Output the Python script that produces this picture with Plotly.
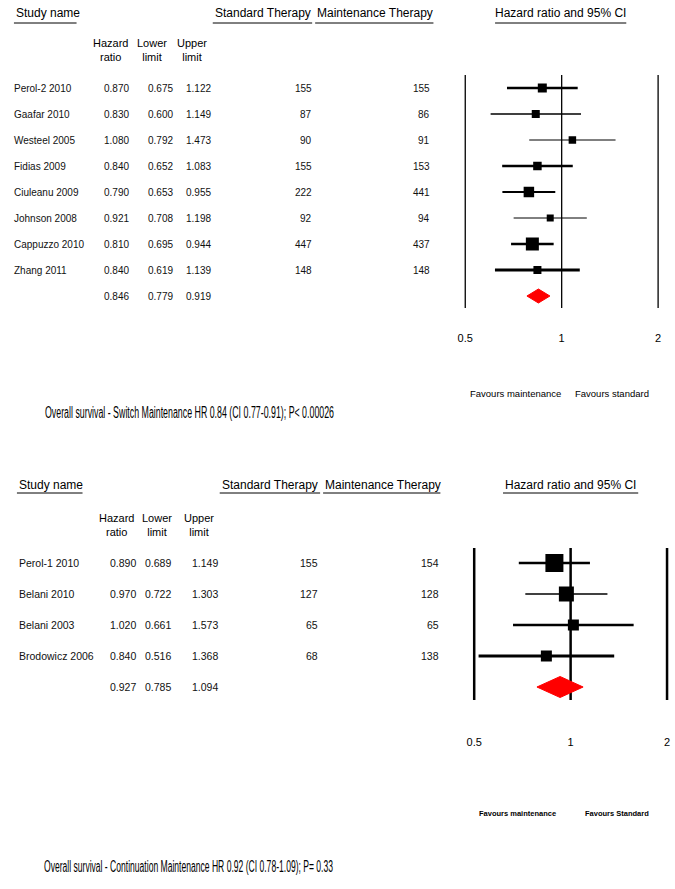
import math
import plotly.graph_objects as go

W, H = 675, 889

# ---------------- data: switch maintenance (top) ----------------
sw_names = ["Perol-2 2010", "Gaafar 2010", "Westeel 2005", "Fidias 2009",
            "Ciuleanu 2009", "Johnson 2008", "Cappuzzo 2010", "Zhang 2011"]
sw_hr = [0.870, 0.830, 1.080, 0.840, 0.790, 0.921, 0.810, 0.840]
sw_lo = [0.675, 0.600, 0.792, 0.652, 0.653, 0.708, 0.695, 0.619]
sw_hi = [1.122, 1.149, 1.473, 1.083, 0.955, 1.198, 0.944, 1.139]
sw_std = [155, 87, 90, 155, 222, 92, 447, 148]
sw_mnt = [155, 86, 91, 153, 441, 94, 437, 148]
sw_total = [0.846, 0.779, 0.919]
sw_title = "Overall survival - Switch Maintenance HR 0.84 (CI 0.77-0.91); P< 0.00026"

# ---------------- data: continuation maintenance (bottom) ----------------
co_names = ["Perol-1 2010", "Belani 2010", "Belani 2003", "Brodowicz 2006"]
co_hr = [0.890, 0.970, 1.020, 0.840]
co_lo = [0.689, 0.722, 0.661, 0.516]
co_hi = [1.149, 1.303, 1.573, 1.368]
co_std = [155, 127, 65, 68]
co_mnt = [154, 128, 65, 138]
co_total = [0.927, 0.785, 1.094]
co_title = "Overall survival - Continuation Maintenance HR 0.92 (CI 0.78-1.09); P= 0.33"

axis_ticks = [0.5, 1, 2]
tick_text = ["0.5", "1", "2"]

# ---------------- styles (pixel layout) ----------------
sw_style = dict(
    xa="x", ya="y", x0=464, x1=658,
    row0=88, step=26, dom_top=75, dom_bot=330, line_top=75, line_bot=308,
    vline_w=1.3, sq=[9, 8, 7.5, 8.5, 10.5, 7, 13, 8], lw=[2.5, 1.5, 1, 2.5, 2, 1, 2.5, 3],
    dia_half=7,
    name_x=8, col_hr=128, col_lo=172, col_hi=210, col_std=312, col_mnt=431,
    hdr_hr=107, hdr_lo=149, hdr_hi=189, sub_y=50,
    head_y=13, ul_y=23,
    ul=[(10, 73), (210, 310), (313, 432), (494, 626)],
    head_x=[(10, "left", "Study name"), (210, "left", "Standard Therapy"),
            (313, "left", "Maintenance Therapy"), (560, "center", "Hazard ratio and 95% CI")],
    tfs=10, nfs=10,
    fav_y=393, fav1=(467, "Favours maintenance"), fav2=(572, "Favours standard"),
    fav_font=dict(family="Liberation Sans, Arial", size=9.5, color="black"),
    title_x=39, title_y=412,
)
co_style = dict(
    xa="x2", ya="y2", x0=473, x1=667,
    row0=563, step=31, dom_top=548, dom_bot=734, line_top=548, line_bot=700,
    vline_w=2.5, sq=[18, 15, 11, 11], lw=[2.5, 1.3, 2.5, 3],
    dia_half=10.5,
    name_x=13, col_hr=135, col_lo=170, col_hi=217, col_std=318, col_mnt=440,
    hdr_hr=113, hdr_lo=154, hdr_hi=196, sub_y=525,
    head_y=485, ul_y=493,
    ul=[(13, 79), (217, 318), (321, 439), (502, 638)],
    head_x=[(13, "left", "Study name"), (217, "left", "Standard Therapy"),
            (321, "left", "Maintenance Therapy"), (570, "center", "Hazard ratio and 95% CI")],
    tfs=10.5, nfs=10.5,
    fav_y=813, fav1=(476, "<b>Favours maintenance</b>"), fav2=(582, "<b>Favours Standard</b>"),
    fav_font=dict(family="Liberation Sans, Arial", size=7.5, color="black"),
    title_x=38, title_y=866,
)

FONT = "Liberation Sans, Arial, sans-serif"
TITLE_FONT = "Liberation Sans, Arial, sans-serif"
TITLE_SIZE = 16
TITLE_LEN = 289   # rendered width of the condensed caption, px
XPAD = 4          # keep edge reference lines inside the clip area, px


def fx(px):
    return px / W


def fy(py):
    return 1 - py / H


fig = go.Figure()
annotations = []
shapes = []
layout_axes = {}


def add_panel(st, names, hr, lo, hi, std, mnt, total, title):
    xa, ya = st["xa"], st["ya"]
    r0, step = st["row0"], st["step"]

    def d(py):
        return (py - r0) / step

    rows = list(range(len(names)))
    n = len(names)

    # reference vertical lines
    for t in axis_ticks:
        fig.add_trace(go.Scatter(x=[t, t], y=[d(st["line_top"]), d(st["line_bot"])],
                                 mode="lines", line=dict(color="black", width=st["vline_w"]),
                                 xaxis=xa, yaxis=ya, hoverinfo="skip", showlegend=False))
    # confidence intervals
    for i in rows:
        fig.add_trace(go.Scatter(x=[lo[i], hi[i]], y=[i, i], mode="lines",
                                 line=dict(color="black", width=st["lw"][i]),
                                 xaxis=xa, yaxis=ya, hoverinfo="skip", showlegend=False))
    # point estimates
    fig.add_trace(go.Scatter(x=hr, y=rows, mode="markers",
                             marker=dict(symbol="square", size=st["sq"], color="#000000",
                                         opacity=1, line=dict(width=0)),
                             opacity=1,
                             xaxis=xa, yaxis=ya, showlegend=False, cliponaxis=False))
    # summary diamond
    dh = st["dia_half"] / step
    fig.add_trace(go.Scatter(x=[total[1], total[0], total[2], total[0], total[1]],
                             y=[n, n - dh, n, n + dh, n], mode="lines", fill="toself",
                             fillcolor="#ff0000", line=dict(color="#ff0000", width=1),
                             xaxis=xa, yaxis=ya, hoverinfo="skip", showlegend=False))

    lg0, lg1 = math.log10(axis_ticks[0]), math.log10(axis_ticks[-1])
    per_px = (lg1 - lg0) / (st["x1"] - st["x0"])
    axname_x = "xaxis" if xa == "x" else "xaxis" + xa[1:]
    axname_y = "yaxis" if ya == "y" else "yaxis" + ya[1:]
    layout_axes[axname_x] = dict(
        type="log", range=[lg0 - XPAD * per_px, lg1 + XPAD * per_px],
        domain=[fx(st["x0"] - XPAD), fx(st["x1"] + XPAD)], anchor=ya,
        tickvals=axis_ticks, ticktext=tick_text, ticks="", showgrid=False,
        zeroline=False, showline=False, tickfont=dict(family=FONT, size=11, color="black"),
        fixedrange=True,
    )
    layout_axes[axname_y] = dict(
        range=[d(st["dom_bot"]), d(st["dom_top"])], domain=[fy(st["dom_bot"]), fy(st["dom_top"])],
        anchor=xa, visible=False, fixedrange=True,
    )

    yref = ya
    tfont = dict(family=FONT, size=st["tfs"], color="#111111")
    nfont = dict(family=FONT, size=st["nfs"], color="#111111")
    for i in rows:
        annotations.append(dict(x=fx(st["name_x"]), y=i, xref="paper", yref=yref, text=names[i],
                                showarrow=False, xanchor="left", yanchor="middle", font=tfont))
        for col, v in ((st["col_hr"], hr[i]), (st["col_lo"], lo[i]), (st["col_hi"], hi[i])):
            annotations.append(dict(x=fx(col), y=i, xref="paper", yref=yref, text=f"{v:.3f}",
                                    showarrow=False, xanchor="right", yanchor="middle", font=nfont))
        for col, v in ((st["col_std"], std[i]), (st["col_mnt"], mnt[i])):
            annotations.append(dict(x=fx(col), y=i, xref="paper", yref=yref, text=str(v),
                                    showarrow=False, xanchor="right", yanchor="middle", font=nfont))
    for col, v in ((st["col_hr"], total[0]), (st["col_lo"], total[1]), (st["col_hi"], total[2])):
        annotations.append(dict(x=fx(col), y=n, xref="paper", yref=yref, text=f"{v:.3f}",
                                showarrow=False, xanchor="right", yanchor="middle", font=nfont))

    # sub headers
    hfont = dict(family=FONT, size=11, color="black")
    for cx, txt in ((st["hdr_hr"], "Hazard<br>ratio"), (st["hdr_lo"], "Lower<br>limit"),
                    (st["hdr_hi"], "Upper<br>limit")):
        annotations.append(dict(x=fx(cx), y=fy(st["sub_y"]), xref="paper", yref="paper", text=txt,
                                showarrow=False, xanchor="center", yanchor="middle", font=hfont,
                                align="center"))
    # column headers + underlines
    Hfont = dict(family=FONT, size=12, color="black")
    for hx, anc, txt in st["head_x"]:
        annotations.append(dict(x=fx(hx), y=fy(st["head_y"]), xref="paper", yref="paper", text=txt,
                                showarrow=False, xanchor=anc, yanchor="middle", font=Hfont))
    for a, b in st["ul"]:
        shapes.append(dict(type="line", xref="paper", yref="paper", x0=fx(a), x1=fx(b),
                           y0=fy(st["ul_y"]), y1=fy(st["ul_y"]), line=dict(color="black", width=1)))
    # favours labels
    for (fxp, txt) in (st["fav1"], st["fav2"]):
        annotations.append(dict(x=fx(fxp), y=fy(st["fav_y"]), xref="paper", yref="paper", text=txt,
                                showarrow=False, xanchor="left", yanchor="middle", font=st["fav_font"]))
    # caption
    annotations.append(dict(x=fx(st["title_x"]), y=fy(st["title_y"]), xref="paper", yref="paper",
                            text=title, showarrow=False, xanchor="left", yanchor="middle",
                            align="left",
                            font=dict(family=TITLE_FONT, size=TITLE_SIZE, color="black")))


add_panel(sw_style, sw_names, sw_hr, sw_lo, sw_hi, sw_std, sw_mnt, sw_total, sw_title)
add_panel(co_style, co_names, co_hr, co_lo, co_hi, co_std, co_mnt, co_total, co_title)

fig.update_layout(
    width=W, height=H, autosize=False,
    margin=dict(l=0, r=0, t=0, b=0),
    paper_bgcolor="white", plot_bgcolor="white",
    showlegend=False,
    annotations=annotations, shapes=shapes,
    **layout_axes,
)

post = (
    "document.body.style.margin='0';"
    "document.querySelectorAll('text.annotation-text').forEach(function(e){"
    "if(e.textContent.indexOf('Overall survival')===0){"
    "e.setAttribute('textLength','%d');e.setAttribute('lengthAdjust','spacingAndGlyphs');}});"
    % TITLE_LEN
)

fig.write_html("out.html", config={"displayModeBar": False}, post_script=post)
